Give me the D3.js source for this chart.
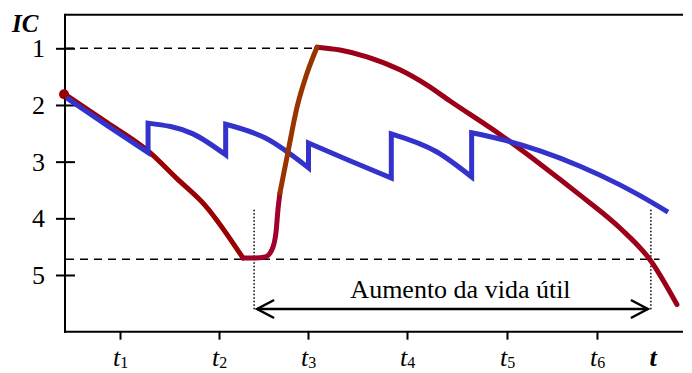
<!DOCTYPE html>
<html>
<head>
<meta charset="utf-8">
<script src="https://cdn.jsdelivr.net/npm/d3@7"></script>
<style>
    body { margin: 0; background: #fff; }
    text { font-family: "Liberation Serif", "Times New Roman", serif; fill: #000; }
</style>
</head>
<body>
<svg id="chart" width="692" height="373"></svg>
<script>
// values: x in time units (0..50), y in IC (1 = best, 5 = worst)
const icTicks = [1, 2, 3, 4, 5];
const timeTicks = [4.45, 12.46, 19.66, 27.67, 35.76, 43.04];
const timeLabels = ['1', '2', '3', '4', '5', '6'];

// condition without intervention, then rehabilitation, then decay again
const redDecay = [[0, 1.81], [3.4, 2.31], [6.72, 2.81], [9.06, 3.3], [11.33, 3.77], [14.4, 4.70]];
const redBottom = [[14.4, 4.70], [15.4, 4.70], [16.2, 4.68], [16.75, 4.55], [17.07, 4.25], [17.23, 3.85], [17.39, 3.55]];
const redRise = [[17.39, 3.55], [17.96, 2.92], [18.77, 2.04], [19.58, 1.44], [20.39, 0.98]];
const redAfter = [[20.39, 0.98], [22.25, 1.03], [24.43, 1.15], [27.1, 1.38], [29.29, 1.65], [31.15, 1.93],
                  [35.19, 2.52], [38.43, 3.04], [41.67, 3.59], [44.9, 4.17], [47.33, 4.73], [49.51, 5.52]];

// periodic maintenance: sawtooth ramps
const blueRamps = [
    [[0.1, 1.87], [3.4, 2.36], [6.72, 2.84]],
    [[6.72, 2.32], [10.36, 2.51], [13.0, 2.88]],
    [[13.0, 2.34], [16.18, 2.58], [19.7, 3.11]],
    [[19.7, 2.67], [22.9, 2.97], [26.4, 3.29]],
    [[26.4, 2.51], [30.1, 2.83], [32.9, 3.27]],
    [[32.9, 2.49], [35.19, 2.60], [38.43, 2.81], [41.67, 3.08], [44.9, 3.41], [46.52, 3.60], [48.79, 3.89]]
];

const minIC = 1;          // dashed line at best condition
const limitIC = 4.72;     // dashed line at threshold
const lifeStart = 15.3;   // dotted verticals
const lifeEnd = 47.4;

const svg = d3.select('#chart');

const xScale = d3.scaleLinear().domain([0, 50]).range([65, 683]);
const yScale = d3.scaleLinear().domain([1, 5]).range([48.3, 275]);

const frameTop = yScale(0.41);
const frameBottom = yScale(6.0);

// frame: top line, left axis, bottom axis
svg.append('line')
    .attr('x1', 65).attr('x2', 683)
    .attr('y1', frameTop).attr('y2', frameTop)
    .attr('stroke', '#000').attr('stroke-width', 2);

const yAxis = svg.append('g')
    .attr('transform', 'translate(65,0)')
    .call(d3.axisLeft(yScale).tickValues(icTicks).tickFormat('').tickSizeOuter(0));
yAxis.select('.domain').remove();
yAxis.selectAll('.tick line').attr('x1', -9).attr('x2', 10).attr('stroke-width', 2);

svg.append('line')
    .attr('x1', 65).attr('x2', 65)
    .attr('y1', frameTop - 1).attr('y2', frameBottom + 1)
    .attr('stroke', '#000').attr('stroke-width', 2);

const xAxis = svg.append('g')
    .attr('transform', `translate(0,${frameBottom})`)
    .call(d3.axisBottom(xScale).tickValues(timeTicks).tickFormat('').tickSize(8).tickSizeOuter(0));
xAxis.select('.domain').remove();
xAxis.selectAll('.tick line').attr('stroke-width', 2);

svg.append('line')
    .attr('x1', 64).attr('x2', 683)
    .attr('y1', frameBottom).attr('y2', frameBottom)
    .attr('stroke', '#000').attr('stroke-width', 2);

// tick labels
svg.selectAll('.ic-label')
    .data(icTicks)
    .enter()
    .append('text')
    .attr('class', 'ic-label')
    .attr('x', 45)
    .attr('y', (d) => yScale(d) + 9)
    .attr('text-anchor', 'end')
    .style('font-size', '26px')
    .text((d) => d);

svg.append('text')
    .attr('x', 12).attr('y', 32)
    .style('font-size', '25px')
    .style('font-weight', 'bold')
    .style('font-style', 'italic')
    .text('IC');

const tLabels = svg.selectAll('.t-label')
    .data(timeTicks)
    .enter()
    .append('text')
    .attr('class', 't-label')
    .attr('x', (d) => xScale(d) - 7)
    .attr('y', 366)
    .style('font-size', '26px');
tLabels.append('tspan').style('font-style', 'italic').text('t');
tLabels.append('tspan')
    .attr('dy', 2)
    .style('font-size', '16px')
    .text((d, i) => timeLabels[i]);

svg.append('text')
    .attr('x', 653).attr('y', 366)
    .attr('text-anchor', 'middle')
    .style('font-size', '26px')
    .style('font-weight', 'bold')
    .style('font-style', 'italic')
    .text('t');

// reference lines
svg.append('line')
    .attr('x1', 66).attr('x2', xScale(20.39))
    .attr('y1', yScale(minIC)).attr('y2', yScale(minIC))
    .attr('stroke', '#000').attr('stroke-width', 1.5)
    .attr('stroke-dasharray', '8,6');

svg.append('line')
    .attr('x1', 66).attr('x2', xScale(48.1))
    .attr('y1', yScale(limitIC)).attr('y2', yScale(limitIC))
    .attr('stroke', '#000').attr('stroke-width', 1.5)
    .attr('stroke-dasharray', '8,6');

[lifeStart, lifeEnd].forEach((t) => {
    svg.append('line')
        .attr('x1', xScale(t)).attr('x2', xScale(t))
        .attr('y1', yScale(3.85)).attr('y2', yScale(5.62))
        .attr('stroke', '#000').attr('stroke-width', 1.5)
        .attr('stroke-dasharray', '1.5,2');
});

// curves
const line = d3.line()
    .x((d) => xScale(d[0]))
    .y((d) => yScale(d[1]))
    .curve(d3.curveMonotoneX);

function drawRed(pts, color) {
    svg.append('path')
        .attr('d', line(pts))
        .attr('fill', 'none')
        .attr('stroke', color)
        .attr('stroke-width', 5)
        .attr('stroke-linecap', 'round');
}

drawRed(redDecay, '#990000');
drawRed(redBottom, '#a0002a');
drawRed(redAfter, '#9b0018');

svg.append('circle')
    .attr('cx', xScale(0) - 1)
    .attr('cy', yScale(1.81))
    .attr('r', 5)
    .attr('fill', '#990000');

// blue sawtooth as one path so the corners stay sharp
let bluePath = '';
blueRamps.forEach((ramp, i) => {
    let p = line(ramp);
    if (i > 0) p = 'L' + p.slice(1);
    bluePath += p;
});
svg.append('path')
    .attr('d', bluePath)
    .attr('fill', 'none')
    .attr('stroke', '#3333cc')
    .attr('stroke-width', 5);

drawRed(redRise, '#993300');

// double arrow for the extra service life
const arrowY = yScale(5.6);
const ax1 = xScale(lifeStart) + 3;
const ax2 = xScale(lifeEnd) - 3;
svg.append('line')
    .attr('x1', ax1).attr('x2', ax2)
    .attr('y1', arrowY).attr('y2', arrowY)
    .attr('stroke', '#000').attr('stroke-width', 2.5);
svg.append('path')
    .attr('d', `M${ax1 + 17},${arrowY - 9}L${ax1},${arrowY}L${ax1 + 17},${arrowY + 9}`)
    .attr('fill', 'none').attr('stroke', '#000').attr('stroke-width', 2.5);
svg.append('path')
    .attr('d', `M${ax2 - 17},${arrowY - 9}L${ax2},${arrowY}L${ax2 - 17},${arrowY + 9}`)
    .attr('fill', 'none').attr('stroke', '#000').attr('stroke-width', 2.5);

svg.append('text')
    .attr('x', (xScale(lifeStart) + xScale(lifeEnd)) / 2 + 8)
    .attr('y', yScale(5.41))
    .attr('text-anchor', 'middle')
    .style('font-size', '26px')
    .text('Aumento da vida útil');
</script>
</body>
</html>
